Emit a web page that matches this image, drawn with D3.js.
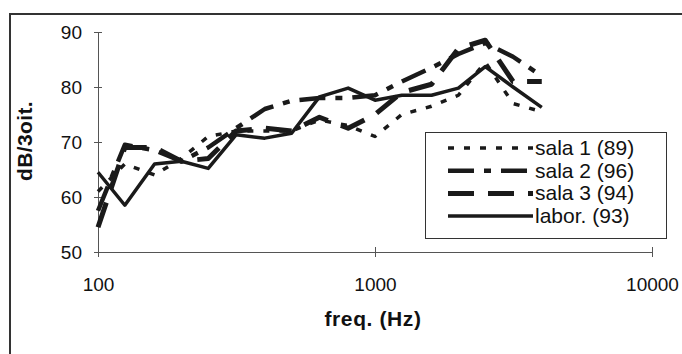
<!DOCTYPE html>
<html>
<head>
<meta charset="utf-8">
<script src="https://cdn.jsdelivr.net/npm/d3@7"></script>
<style>
    body { margin: 0; background: #fff; }
    svg { display: block; font-family: "Liberation Sans", Arial, sans-serif; }
    .axis path, .axis line { stroke: #555; stroke-width: 1; }
    .axis text { font-size: 19px; fill: #111; }
    .title { font-size: 21px; font-weight: bold; fill: #111; }
    .legend text { font-size: 21px; fill: #111; }
</style>
</head>
<body>
<svg id="chart" width="682" height="354"></svg>
<script>
// third-octave bands, Hz
var freqs = [100, 125, 160, 200, 250, 315, 400, 500, 630, 800, 1000, 1250, 1600, 2000, 2500, 3150, 4000];

// levels, dB per third octave
var sala1 = [61, 66, 64, 67, 71, 72, 72, 72, 74, 73, 71, 75, 76.5, 78.5, 84.5, 77, 75.5];
var sala2 = [57.5, 69.5, 68.5, 66.5, 69, 72.5, 76, 77.5, 78, 78, 78.5, 81, 83.5, 86, 88, 85.5, 82];
var sala3 = [54.5, 69, 69, 66.5, 67, 72, 72.5, 72, 74.5, 72.5, 75, 79, 80.5, 87, 88.5, 81, 81];
var labor = [64.5, 58.5, 66, 66.5, 65.2, 71.3, 70.7, 71.6, 78.2, 79.8, 77.6, 78.5, 78.5, 79.8, 83.7, 80, 76.3];

var seriesNames = ["sala 1 (89)", "sala 2 (96)", "sala 3 (94)", "labor. (93)"];
var xTicks = [100, 1000, 10000];
var yTicks = [50, 60, 70, 80, 90];

// line styles per series: width and dash pattern
var styles = [
    {w: 3.5, dash: "6,10"},
    {w: 4.5, dash: "26,10,7,10"},
    {w: 5, dash: "26,14"},
    {w: 3.5, dash: null}
];

var svg = d3.select("#chart");

// outer frame (only top and left edges show in the picture)
svg.append("path")
    .attr("d", "M10,354 L10,14 L682,14")
    .attr("fill", "none")
    .attr("stroke", "#333")
    .attr("stroke-width", 2);

var xScale = d3.scaleLog()
    .domain([100, 10000])
    .range([98, 652]);

var yScale = d3.scaleLinear()
    .domain([50, 90])
    .range([252, 32]);

var yAxis = d3.axisLeft(yScale)
    .tickValues(yTicks)
    .tickSizeInner(4)
    .tickSizeOuter(0)
    .tickPadding(12);

svg.append("g")
    .attr("class", "axis")
    .attr("transform", "translate(" + xScale(100) + ",0)")
    .call(yAxis)
    .selectAll(".tick line")
    .attr("x1", 4);

var xAxis = d3.axisBottom(xScale)
    .tickValues(xTicks)
    .tickFormat(d3.format("d"))
    .tickSizeInner(5)
    .tickSizeOuter(0)
    .tickPadding(21);

svg.append("g")
    .attr("class", "axis")
    .attr("transform", "translate(0," + yScale(50) + ")")
    .call(xAxis)
    .selectAll(".tick line")
    .attr("y1", -5);

svg.selectAll(".axis .tick text").attr("fill", "#111");

// axis titles
svg.append("text")
    .attr("class", "title")
    .attr("x", 373)
    .attr("y", 326)
    .attr("text-anchor", "middle")
    .style("letter-spacing", "0.6px")
    .text("freq. (Hz)");

svg.append("text")
    .attr("class", "title")
    .attr("transform", "translate(32,141) rotate(-90)")
    .attr("text-anchor", "middle")
    .style("letter-spacing", "0.4px")
    .text("dB/3oit.");

// series lines
var allSeries = [sala1, sala2, sala3, labor];

var line = d3.line()
    .x(function (d, i) { return xScale(freqs[i]); })
    .y(function (d) { return yScale(d); });

svg.append("g")
    .selectAll("path")
    .data(allSeries)
    .enter()
    .append("path")
    .attr("d", line)
    .attr("fill", "none")
    .attr("stroke", "#1a1a1a")
    .attr("stroke-linejoin", "round")
    .attr("stroke-width", function (d, i) { return styles[i].w; })
    .attr("stroke-dasharray", function (d, i) { return styles[i].dash; });

// legend
var legend = svg.append("g").attr("class", "legend");

legend.append("rect")
    .attr("x", 425.5)
    .attr("y", 132.5)
    .attr("width", 241)
    .attr("height", 106)
    .attr("fill", "#fff")
    .attr("stroke", "#333")
    .attr("stroke-width", 1);

var rows = legend.selectAll(".row")
    .data(seriesNames)
    .enter()
    .append("g")
    .attr("class", "row")
    .attr("transform", function (d, i) { return "translate(0," + (148 + i * 22.7) + ")"; });

rows.append("line")
    .attr("x1", 448)
    .attr("x2", 533)
    .attr("stroke", "#1a1a1a")
    .attr("stroke-width", function (d, i) { return styles[i].w; })
    .attr("stroke-dasharray", function (d, i) { return styles[i].dash; });

rows.append("text")
    .attr("x", 535)
    .attr("y", 7)
    .text(function (d) { return d; });
</script>
</body>
</html>
